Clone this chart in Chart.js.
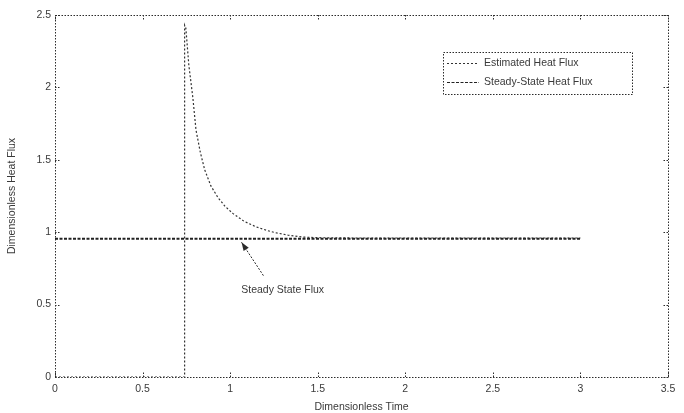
<!DOCTYPE html>
<html>
<head>
<meta charset="utf-8">
<script src="https://cdn.jsdelivr.net/npm/chart.js@4/dist/chart.umd.min.js"></script>
<style>
  html, body { margin: 0; padding: 0; background: #fff; }
  #wrap { width: 684px; height: 413px; }
</style>
</head>
<body>
<div id="wrap"><canvas id="fluxChart" width="684" height="413"></canvas></div>
<script>
// time / flux samples
const estTime = [0, 0.74, 0.74, 0.747, 0.764, 0.787, 0.805, 0.83, 0.855, 0.89, 0.93, 0.97, 1.015, 1.08, 1.15, 1.21, 1.265, 1.33, 1.41, 1.5, 1.7, 2.0, 2.5, 3.0];
const estFlux = [0, 0, 2.43, 2.41, 2.155, 1.93, 1.706, 1.55, 1.43, 1.32, 1.24, 1.18, 1.13, 1.075, 1.036, 1.012, 0.995, 0.98, 0.967, 0.962, 0.96, 0.96, 0.96, 0.96];
const steadyTime = [0, 3.0];
const steadyFlux = [0.955, 0.955];
const xTicks = [0, 0.5, 1, 1.5, 2, 2.5, 3, 3.5];
const yTicks = [0, 0.5, 1, 1.5, 2, 2.5];
const seriesNames = ["Estimated Heat Flux", "Steady-State Heat Flux"];
const noteText = "Steady State Flux";

const FONT = "'Liberation Sans', Arial, sans-serif";
const INK = "#2b2b2b";

function toPoints(xs, ys) {
    return xs.map((x, i) => ({ x: x, y: ys[i] }));
}

// box, inward ticks on all sides, legend and the arrow note
const framePlugin = {
    id: "frame",
    afterDatasetsDraw(chart) {
        const ctx = chart.ctx;
        const a = chart.chartArea;
        const xs = chart.scales.x;
        const ys = chart.scales.y;
        ctx.save();
        ctx.strokeStyle = INK;
        ctx.lineWidth = 1;
        ctx.setLineDash([1.5, 1.5]);
        ctx.strokeRect(a.left + 0.5, a.top + 0.5, a.right - a.left, a.bottom - a.top);

        ctx.beginPath();
        xTicks.forEach(v => {
            const px = Math.round(xs.getPixelForValue(v)) + 0.5;
            ctx.moveTo(px, a.bottom); ctx.lineTo(px, a.bottom - 5);
            ctx.moveTo(px, a.top); ctx.lineTo(px, a.top + 5);
        });
        yTicks.forEach(v => {
            const py = Math.round(ys.getPixelForValue(v)) + 0.5;
            ctx.moveTo(a.left, py); ctx.lineTo(a.left + 5, py);
            ctx.moveTo(a.right, py); ctx.lineTo(a.right - 5, py);
        });
        ctx.stroke();

        // legend
        const lx = 443, ly = 52, lw = 189, lh = 42;
        ctx.fillStyle = "#fff";
        ctx.fillRect(lx, ly, lw, lh);
        ctx.setLineDash([1.5, 1.5]);
        ctx.strokeRect(lx + 0.5, ly + 0.5, lw, lh);
        ctx.font = "10.5px " + FONT;
        ctx.textBaseline = "middle";
        ctx.textAlign = "left";
        seriesNames.forEach((name, i) => {
            const ds = chart.data.datasets[i];
            const yy = ly + 11 + i * 19;
            ctx.strokeStyle = ds.borderColor;
            ctx.lineWidth = 1;
            ctx.setLineDash(ds.borderDash);
            ctx.beginPath();
            ctx.moveTo(lx + 4, yy + 0.5);
            ctx.lineTo(lx + 36, yy + 0.5);
            ctx.stroke();
            ctx.fillStyle = "#3a3a3a";
            ctx.fillText(name, lx + 41, yy);
        });

        // note with arrow pointing at the steady line
        const tipX = xs.getPixelForValue(1.065), tipY = ys.getPixelForValue(0.93);
        const tailX = xs.getPixelForValue(1.19), tailY = ys.getPixelForValue(0.7);
        ctx.strokeStyle = INK;
        ctx.setLineDash([2, 1.5]);
        ctx.beginPath();
        ctx.moveTo(tailX, tailY);
        ctx.lineTo(tipX, tipY);
        ctx.stroke();
        const ang = Math.atan2(tipY - tailY, tipX - tailX);
        ctx.setLineDash([]);
        ctx.fillStyle = INK;
        ctx.beginPath();
        ctx.moveTo(tipX, tipY);
        ctx.lineTo(tipX - 9 * Math.cos(ang - 0.35), tipY - 9 * Math.sin(ang - 0.35));
        ctx.lineTo(tipX - 9 * Math.cos(ang + 0.35), tipY - 9 * Math.sin(ang + 0.35));
        ctx.closePath();
        ctx.fill();
        ctx.fillStyle = "#3a3a3a";
        ctx.textAlign = "center";
        ctx.font = "10.5px " + FONT;
        ctx.fillText(noteText, xs.getPixelForValue(1.3), ys.getPixelForValue(0.6));
        ctx.restore();
    }
};

new Chart(document.getElementById("fluxChart"), {
    type: "scatter",
    data: {
        datasets: [
            {
                label: seriesNames[0],
                data: toPoints(estTime, estFlux),
                showLine: true,
                borderColor: "#333",
                borderWidth: 1.2,
                borderDash: [2, 2],
                pointRadius: 0,
                tension: 0,
            },
            {
                label: seriesNames[1],
                data: toPoints(steadyTime, steadyFlux),
                showLine: true,
                borderColor: "#222",
                borderWidth: 2,
                borderDash: [3, 1.5],
                pointRadius: 0,
            },
        ],
    },
    options: {
        responsive: false,
        animation: false,
        layout: { padding: { top: 15, right: 16, left: 0, bottom: 0 } },
        plugins: {
            legend: { display: false },
            tooltip: { enabled: false },
        },
        scales: {
            x: {
                type: "linear",
                min: 0,
                max: 3.5,
                afterBuildTicks: (s) => { s.ticks = xTicks.map(v => ({ value: v })); },
                afterFit: (s) => { s.height = 36; },
                grid: { display: false, drawTicks: false },
                border: { display: false },
                ticks: {
                    padding: 6,
                    maxRotation: 0,
                    color: "#3a3a3a",
                    font: { family: FONT, size: 10.5 },
                    callback: (v) => String(v),
                },
                title: {
                    display: true,
                    text: "Dimensionless Time",
                    color: "#3a3a3a",
                    font: { family: FONT, size: 10.5 },
                    padding: { top: 0, bottom: 0 },
                },
            },
            y: {
                type: "linear",
                min: 0,
                max: 2.5,
                afterBuildTicks: (s) => { s.ticks = yTicks.map(v => ({ value: v })); },
                afterFit: (s) => { s.width = 55; },
                grid: { display: false, drawTicks: false },
                border: { display: false },
                ticks: {
                    padding: 4,
                    color: "#3a3a3a",
                    font: { family: FONT, size: 10.5 },
                    callback: (v) => String(v),
                },
                title: {
                    display: true,
                    text: "Dimensionless Heat Flux",
                    color: "#3a3a3a",
                    font: { family: FONT, size: 10.5 },
                    padding: { top: 6, bottom: 0 },
                },
            },
        },
    },
    plugins: [framePlugin],
});
</script>
</body>
</html>
